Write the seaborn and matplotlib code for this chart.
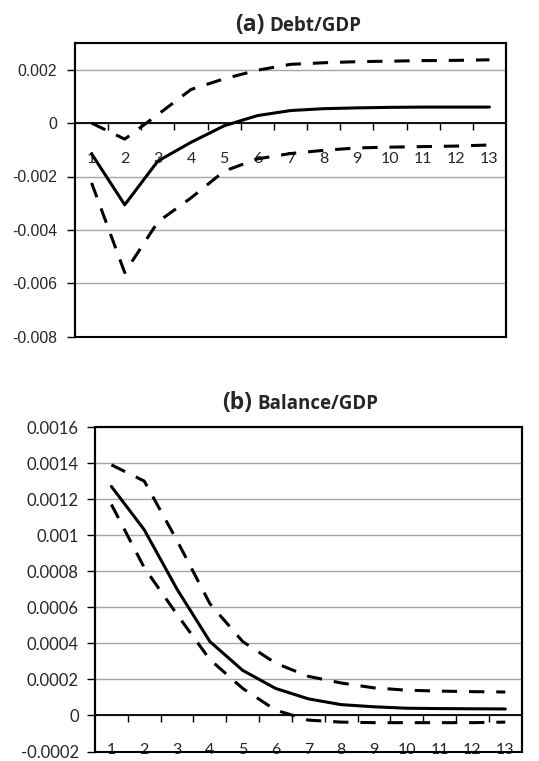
import matplotlib
matplotlib.use("Agg")
import matplotlib.pyplot as plt
from matplotlib.patches import Rectangle
from matplotlib.ticker import FixedLocator, FixedFormatter, NullFormatter
import seaborn as sns

# Impulse responses over 13 periods
periods = list(range(1, 14))
period_labels = [str(p) for p in periods]

debt_irf = [-0.00115, -0.00306, -0.00142, -0.00072, -0.0001, 0.00028, 0.00047,
            0.00054, 0.00057, 0.00059, 0.0006, 0.0006, 0.0006]
debt_upper = [0.0, -0.0006, 0.00032, 0.00126, 0.00166, 0.00198, 0.0022,
              0.00226, 0.0023, 0.00232, 0.00234, 0.00235, 0.00237]
debt_lower = [-0.00224, -0.0056, -0.0037, -0.0028, -0.0018, -0.00134, -0.00114,
              -0.00102, -0.00093, -0.0009, -0.00088, -0.00086, -0.00082]

balance_irf = [0.00127, 0.00103, 0.0007, 0.00041, 0.00025, 0.00015, 0.000092,
               0.00006, 0.000048, 0.00004, 0.000038, 0.000037, 0.000036]
balance_upper = [0.00139, 0.0013, 0.00097, 0.00062, 0.00041, 0.00029, 0.000217,
                 0.00018, 0.000153, 0.00014, 0.000135, 0.000132, 0.00013]
balance_lower = [0.00117, 0.00082, 0.00056, 0.00031, 0.00015, 0.00003, -0.000026,
                 -0.000037, -0.00004, -0.00004, -0.00004, -0.00004, -0.000037]

debt_yticks = [0.002, 0.0, -0.002, -0.004, -0.006, -0.008]
debt_ytick_labels = ["0.002", "0", "-0.002", "-0.004", "-0.006", "-0.008"]
balance_yticks = [0.0016, 0.0014, 0.0012, 0.001, 0.0008, 0.0006, 0.0004, 0.0002, 0.0, -0.0002]
balance_ytick_labels = ["0.0016", "0.0014", "0.0012", "0.001", "0.0008", "0.0006",
                        "0.0004", "0.0002", "0", "-0.0002"]

sns.set_theme(style="white")
plt.rcParams["font.family"] = ["Lato", "DejaVu Sans"]

W, H = 539, 761
fig = plt.figure(figsize=(W / 100, H / 100), dpi=100)


def px_axes(left, top, right, bottom):
    return fig.add_axes([left / W, 1 - bottom / H, (right - left) / W, (bottom - top) / H])


DASH = (0, (5, 3.9))
LW = 2.2


def draw_panel(ax, irf, upper, lower, yticks, ylabels, ylim, ytick_font, ypad, xpad):
    sns.lineplot(x=periods, y=upper, ax=ax, color="black", lw=LW, linestyle=DASH)
    sns.lineplot(x=periods, y=lower, ax=ax, color="black", lw=LW, linestyle=DASH)
    sns.lineplot(x=periods, y=irf, ax=ax, color="black", lw=LW)
    ax.set_xlim(0.5, 13.5)
    ax.set_ylim(*ylim)

    # horizontal gridlines
    ax.yaxis.set_major_locator(FixedLocator(yticks))
    ax.yaxis.set_major_formatter(FixedFormatter(ylabels))
    ax.grid(axis="y", color="#a6a6a6", lw=1.0)
    ax.grid(axis="x", visible=False)
    ax.set_axisbelow(True)
    ax.tick_params(axis="y", which="major", left=True, length=5.8, width=1.0,
                   color="black", direction="out", pad=ypad, labelsize=11)
    for t in ax.get_yticklabels():
        t.set_fontfamily(ytick_font)
        t.set_fontsize(11.3 if ytick_font == "Liberation Sans" else 12)

    # category axis crossing at zero
    ax.spines["bottom"].set_position(("data", 0))
    ax.spines["bottom"].set_color("black")
    ax.spines["bottom"].set_linewidth(1.3)
    ax.xaxis.set_major_locator(FixedLocator(periods))
    ax.xaxis.set_major_formatter(FixedFormatter(period_labels))
    ax.xaxis.set_minor_locator(FixedLocator([p + 0.5 for p in periods[:-1]]))
    ax.xaxis.set_minor_formatter(NullFormatter())
    ax.tick_params(axis="x", which="major", bottom=True, length=0, pad=xpad, labelsize=11.5)
    ax.tick_params(axis="x", which="minor", bottom=True, length=5, width=1.0,
                   color="black", direction="out")

    for side in ("left", "right", "top"):
        ax.spines[side].set_color("black")
        ax.spines[side].set_linewidth(1.5)
    ax.add_patch(Rectangle((0, 0), 1, 1, transform=ax.transAxes, fill=False,
                           edgecolor="black", lw=1.5, clip_on=False, zorder=3))
    ax.set_xlabel("")
    ax.set_ylabel("")


ax_a = px_axes(75, 43, 506, 336.7)
draw_panel(ax_a, debt_irf, debt_upper, debt_lower, debt_yticks, debt_ytick_labels,
           (-0.008, 0.003), "Liberation Sans", 7, 21)

ax_b = px_axes(95, 427, 521.7, 751.5)
draw_panel(ax_b, balance_irf, balance_upper, balance_lower, balance_yticks,
           balance_ytick_labels, (-0.0002, 0.0016), "Lato", 5.8, 20)

# panel titles
title_font = ["Open Sans", "DejaVu Sans"]
fig.text(265 / W, 1 - 25 / H, "(a)", ha="right", va="center", fontsize=16.5,
         fontweight="bold", family=title_font)
fig.text(269 / W, 1 - 26 / H, "Debt/GDP", ha="left", va="center", fontsize=13.5,
         fontweight="bold", family=title_font)
fig.text(252 / W, 1 - 403 / H, "(b)", ha="right", va="center", fontsize=16.5,
         fontweight="bold", family=title_font)
fig.text(257 / W, 1 - 404 / H, "Balance/GDP", ha="left", va="center", fontsize=13.5,
         fontweight="bold", family=title_font)

fig.savefig("out.png", dpi=100)
